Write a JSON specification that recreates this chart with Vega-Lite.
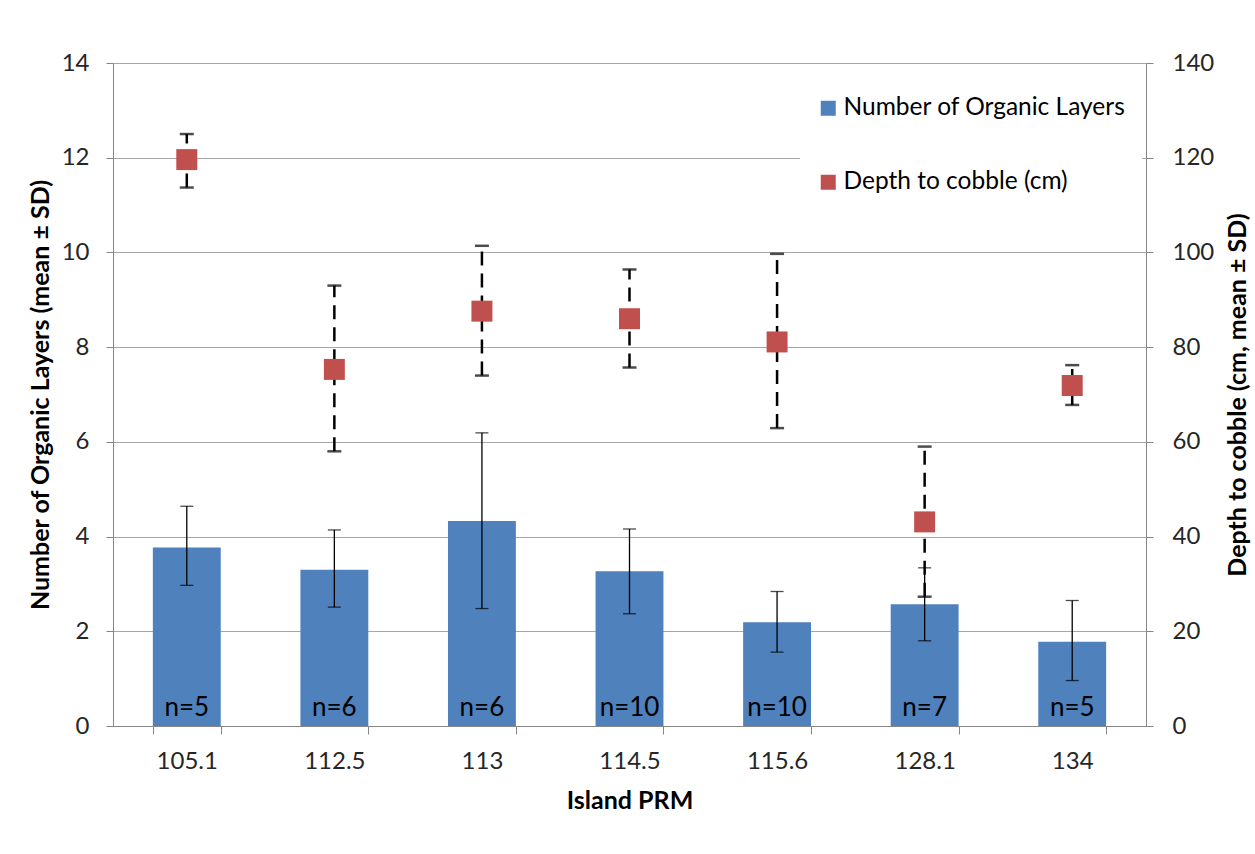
{
  "$schema": "https://vega.github.io/schema/vega-lite/v6.json",
  "width": 1033,
  "height": 663,
  "autosize": {"type": "none"},
  "padding": {"left": 113, "top": 63, "right": 109, "bottom": 128},
  "background": "white",
  "config": {
    "font": "Lato",
    "view": {"stroke": null},
    "axis": {
      "domainColor": "#868686",
      "tickColor": "#868686",
      "gridColor": "#a6a6a6",
      "labelColor": "#262626",
      "labelFontSize": 24,
      "titleFontSize": 25,
      "titleFontWeight": "bold",
      "titleColor": "#000000",
      "tickSize": 7
    }
  },
  "data": {
    "values": [
      {"prm": "105.1", "layers": 3.77, "layersLo": 2.97, "layersHi": 4.64, "depth": 119.6, "depthLo": 113.7, "depthHi": 125.0, "n": "n=5"},
      {"prm": "112.5", "layers": 3.30, "layersLo": 2.51, "layersHi": 4.14, "depth": 75.3, "depthLo": 58.0, "depthHi": 93.0, "n": "n=6"},
      {"prm": "113", "layers": 4.33, "layersLo": 2.48, "layersHi": 6.19, "depth": 87.6, "depthLo": 74.0, "depthHi": 101.4, "n": "n=6"},
      {"prm": "114.5", "layers": 3.27, "layersLo": 2.37, "layersHi": 4.16, "depth": 86.0, "depthLo": 75.7, "depthHi": 96.4, "n": "n=10"},
      {"prm": "115.6", "layers": 2.19, "layersLo": 1.56, "layersHi": 2.84, "depth": 81.1, "depthLo": 62.9, "depthHi": 99.7, "n": "n=10"},
      {"prm": "128.1", "layers": 2.57, "layersLo": 1.80, "layersHi": 3.34, "depth": 43.1, "depthLo": 27.3, "depthHi": 59.0, "n": "n=7"},
      {"prm": "134", "layers": 1.78, "layersLo": 0.96, "layersHi": 2.65, "depth": 71.9, "depthLo": 67.8, "depthHi": 76.2, "n": "n=5"}
    ]
  },
  "encoding": {
    "x": {
      "field": "prm",
      "type": "nominal",
      "sort": null,
      "scale": {"paddingInner": 0.54, "paddingOuter": 0.27},
      "axis": {
        "title": "Island PRM",
        "labelAngle": 0,
        "tickBand": "extent",
        "tickSize": 8,
        "labelPadding": 15,
        "titlePadding": 15
      }
    }
  },
  "layer": [
    {
      "encoding": {
        "y": {
          "type": "quantitative",
          "scale": {"domain": [0, 14], "nice": false},
          "axis": {
            "orient": "left",
            "title": "Number of Organic Layers (mean ± SD)",
            "values": [0, 2, 4, 6, 8, 10, 12, 14],
            "grid": true,
            "labelPadding": 17,
            "titlePadding": 8
          }
        }
      },
      "layer": [
        {
          "mark": {"type": "bar"},
          "encoding": {
            "y": {"field": "layers", "type": "quantitative"},
            "color": {
              "datum": "Number of Organic Layers",
              "scale": {"domain": ["Number of Organic Layers", "Depth to cobble (cm)"], "range": ["#4f81bd", "#c0504d"]},
              "legend": {
                "title": null,
                "orient": "none",
                "legendX": 687,
                "legendY": 17,
                "fillColor": "white",
                "padding": 16,
                "symbolType": "square",
                "symbolSize": 225,
                "symbolStrokeWidth": 0,
                "labelFontSize": 24.5,
                "labelColor": "#000000",
                "labelOffset": 3,
                "labelLimit": 0,
                "rowPadding": 49
              }
            }
          }
        },
        {
          "mark": {"type": "rule", "color": "#000000", "strokeWidth": 1.3},
          "encoding": {
            "y": {"field": "layersLo", "type": "quantitative"},
            "y2": {"field": "layersHi"}
          }
        },
        {
          "mark": {"type": "tick", "color": "#000000", "size": 13, "thickness": 1.3},
          "encoding": {"y": {"field": "layersHi", "type": "quantitative"}}
        },
        {
          "mark": {"type": "tick", "color": "#000000", "size": 13, "thickness": 1.3},
          "encoding": {"y": {"field": "layersLo", "type": "quantitative"}}
        },
        {
          "mark": {"type": "text", "fontSize": 26, "color": "#000000", "baseline": "alphabetic", "dy": -10},
          "encoding": {
            "y": {"datum": 0, "type": "quantitative"},
            "text": {"field": "n"}
          }
        }
      ]
    },
    {
      "encoding": {
        "y": {
          "type": "quantitative",
          "scale": {"domain": [0, 140], "nice": false},
          "axis": {
            "orient": "right",
            "title": "Depth to cobble (cm, mean ± SD)",
            "values": [0, 20, 40, 60, 80, 100, 120, 140],
            "grid": false,
            "labelPadding": 19,
            "titlePadding": 37,
            "titleAngle": 270
          }
        }
      },
      "layer": [
        {
          "mark": {"type": "rule", "color": "#000000", "strokeWidth": 2.5, "strokeDash": [14, 8]},
          "encoding": {
            "y": {"field": "depthLo", "type": "quantitative"},
            "y2": {"field": "depthHi"}
          }
        },
        {
          "mark": {"type": "tick", "color": "#000000", "size": 14, "thickness": 2.5},
          "encoding": {"y": {"field": "depthHi", "type": "quantitative"}}
        },
        {
          "mark": {"type": "tick", "color": "#000000", "size": 14, "thickness": 2.5},
          "encoding": {"y": {"field": "depthLo", "type": "quantitative"}}
        },
        {
          "mark": {"type": "point", "shape": "square", "filled": true, "size": 440, "opacity": 1},
          "encoding": {
            "y": {"field": "depth", "type": "quantitative"},
            "color": {"datum": "Depth to cobble (cm)"}
          }
        }
      ]
    }
  ],
  "resolve": {"scale": {"y": "independent"}}
}
